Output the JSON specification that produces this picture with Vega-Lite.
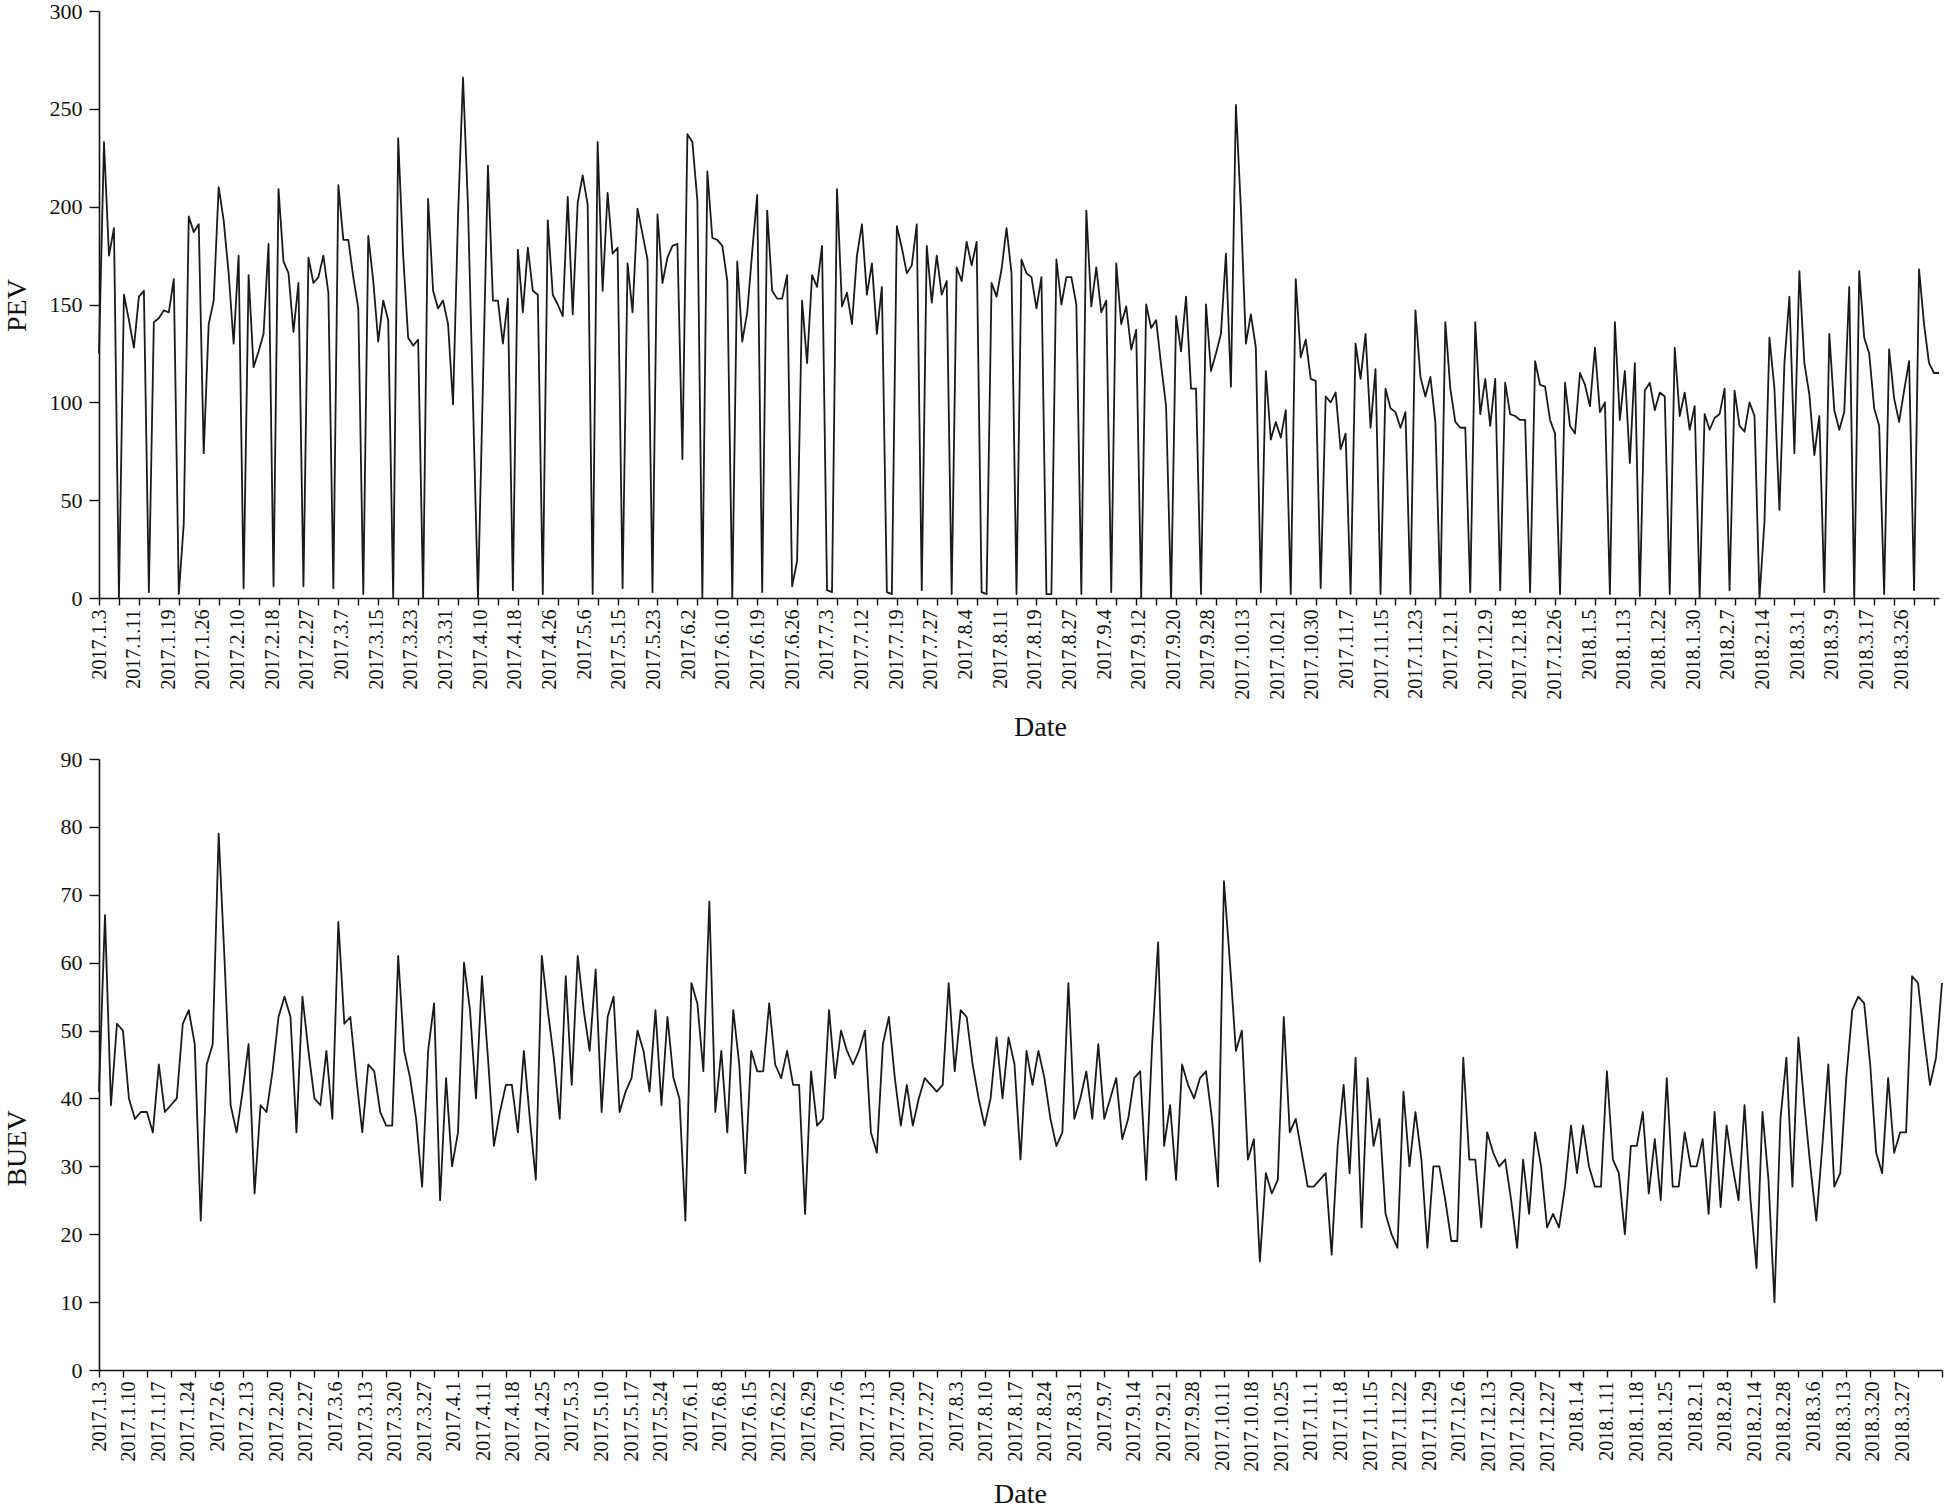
{
  "$schema": "https://vega.github.io/schema/vega-lite/v6.json",
  "autosize": {"type": "pad"},
  "padding": {"left": 3, "top": 0, "right": 0, "bottom": 0},
  "background": "white",
  "spacing": 7,
  "config": {
    "view": {"stroke": null},
    "axis": {
      "grid": false,
      "domainColor": "#111111",
      "domainWidth": 1.6,
      "tickColor": "#111111",
      "tickWidth": 1.4,
      "labelColor": "#111111",
      "titleColor": "#111111",
      "titleFont": "Liberation Serif",
      "titleFontWeight": "normal",
      "titleFontSize": 28
    }
  },
  "datasets": {
    "pev": [
      {"i":0,"v":125},{"i":1,"v":233},{"i":2,"v":175},{"i":3,"v":189},{"i":4,"v":0},{"i":5,"v":155},{"i":6,"v":142},{"i":7,"v":128},{"i":8,"v":154},{"i":9,"v":157},
      {"i":10,"v":3},{"i":11,"v":141},{"i":12,"v":143},{"i":13,"v":147},{"i":14,"v":146},{"i":15,"v":163},{"i":16,"v":2},{"i":17,"v":38},{"i":18,"v":195},{"i":19,"v":187},
      {"i":20,"v":191},{"i":21,"v":74},{"i":22,"v":140},{"i":23,"v":152},{"i":24,"v":210},{"i":25,"v":193},{"i":26,"v":166},{"i":27,"v":130},{"i":28,"v":175},{"i":29,"v":5},
      {"i":30,"v":165},{"i":31,"v":118},{"i":32,"v":126},{"i":33,"v":135},{"i":34,"v":181},{"i":35,"v":6},{"i":36,"v":209},{"i":37,"v":172},{"i":38,"v":166},{"i":39,"v":136},
      {"i":40,"v":161},{"i":41,"v":6},{"i":42,"v":174},{"i":43,"v":161},{"i":44,"v":164},{"i":45,"v":175},{"i":46,"v":156},{"i":47,"v":5},{"i":48,"v":211},{"i":49,"v":183},
      {"i":50,"v":183},{"i":51,"v":164},{"i":52,"v":148},{"i":53,"v":2},{"i":54,"v":185},{"i":55,"v":162},{"i":56,"v":131},{"i":57,"v":152},{"i":58,"v":142},{"i":59,"v":0},
      {"i":60,"v":235},{"i":61,"v":175},{"i":62,"v":133},{"i":63,"v":129},{"i":64,"v":132},{"i":65,"v":0},{"i":66,"v":204},{"i":67,"v":157},{"i":68,"v":148},{"i":69,"v":152},
      {"i":70,"v":140},{"i":71,"v":99},{"i":72,"v":195},{"i":73,"v":266},{"i":74,"v":200},{"i":75,"v":100},{"i":76,"v":0},{"i":77,"v":110},{"i":78,"v":221},{"i":79,"v":152},
      {"i":80,"v":152},{"i":81,"v":130},{"i":82,"v":153},{"i":83,"v":4},{"i":84,"v":178},{"i":85,"v":146},{"i":86,"v":179},{"i":87,"v":157},{"i":88,"v":155},{"i":89,"v":2},
      {"i":90,"v":193},{"i":91,"v":155},{"i":92,"v":150},{"i":93,"v":144},{"i":94,"v":205},{"i":95,"v":145},{"i":96,"v":202},{"i":97,"v":216},{"i":98,"v":201},{"i":99,"v":2},
      {"i":100,"v":233},{"i":101,"v":157},{"i":102,"v":207},{"i":103,"v":176},{"i":104,"v":179},{"i":105,"v":5},{"i":106,"v":171},{"i":107,"v":146},{"i":108,"v":199},{"i":109,"v":186},
      {"i":110,"v":173},{"i":111,"v":3},{"i":112,"v":196},{"i":113,"v":161},{"i":114,"v":174},{"i":115,"v":180},{"i":116,"v":181},{"i":117,"v":71},{"i":118,"v":237},{"i":119,"v":233},
      {"i":120,"v":203},{"i":121,"v":0},{"i":122,"v":218},{"i":123,"v":184},{"i":124,"v":183},{"i":125,"v":180},{"i":126,"v":162},{"i":127,"v":0},{"i":128,"v":172},{"i":129,"v":131},
      {"i":130,"v":146},{"i":131,"v":177},{"i":132,"v":206},{"i":133,"v":3},{"i":134,"v":198},{"i":135,"v":157},{"i":136,"v":153},{"i":137,"v":153},{"i":138,"v":165},{"i":139,"v":6},
      {"i":140,"v":19},{"i":141,"v":152},{"i":142,"v":120},{"i":143,"v":165},{"i":144,"v":159},{"i":145,"v":180},{"i":146,"v":4},{"i":147,"v":3},{"i":148,"v":209},{"i":149,"v":149},
      {"i":150,"v":156},{"i":151,"v":140},{"i":152,"v":175},{"i":153,"v":191},{"i":154,"v":155},{"i":155,"v":171},{"i":156,"v":135},{"i":157,"v":159},{"i":158,"v":3},{"i":159,"v":2},
      {"i":160,"v":190},{"i":161,"v":179},{"i":162,"v":166},{"i":163,"v":170},{"i":164,"v":191},{"i":165,"v":4},{"i":166,"v":180},{"i":167,"v":151},{"i":168,"v":175},{"i":169,"v":155},
      {"i":170,"v":162},{"i":171,"v":2},{"i":172,"v":169},{"i":173,"v":162},{"i":174,"v":182},{"i":175,"v":170},{"i":176,"v":182},{"i":177,"v":3},{"i":178,"v":2},{"i":179,"v":161},
      {"i":180,"v":154},{"i":181,"v":168},{"i":182,"v":189},{"i":183,"v":166},{"i":184,"v":2},{"i":185,"v":173},{"i":186,"v":166},{"i":187,"v":164},{"i":188,"v":148},{"i":189,"v":164},
      {"i":190,"v":2},{"i":191,"v":2},{"i":192,"v":173},{"i":193,"v":150},{"i":194,"v":164},{"i":195,"v":164},{"i":196,"v":150},{"i":197,"v":2},{"i":198,"v":198},{"i":199,"v":149},
      {"i":200,"v":169},{"i":201,"v":146},{"i":202,"v":152},{"i":203,"v":3},{"i":204,"v":171},{"i":205,"v":140},{"i":206,"v":149},{"i":207,"v":127},{"i":208,"v":137},{"i":209,"v":0},
      {"i":210,"v":150},{"i":211,"v":138},{"i":212,"v":142},{"i":213,"v":119},{"i":214,"v":98},{"i":215,"v":0},{"i":216,"v":144},{"i":217,"v":126},{"i":218,"v":154},{"i":219,"v":107},
      {"i":220,"v":107},{"i":221,"v":2},{"i":222,"v":150},{"i":223,"v":116},{"i":224,"v":125},{"i":225,"v":135},{"i":226,"v":176},{"i":227,"v":108},{"i":228,"v":252},{"i":229,"v":199},
      {"i":230,"v":130},{"i":231,"v":145},{"i":232,"v":128},{"i":233,"v":3},{"i":234,"v":116},{"i":235,"v":81},{"i":236,"v":90},{"i":237,"v":82},{"i":238,"v":96},{"i":239,"v":2},
      {"i":240,"v":163},{"i":241,"v":123},{"i":242,"v":132},{"i":243,"v":112},{"i":244,"v":111},{"i":245,"v":5},{"i":246,"v":103},{"i":247,"v":100},{"i":248,"v":105},{"i":249,"v":76},
      {"i":250,"v":84},{"i":251,"v":2},{"i":252,"v":130},{"i":253,"v":112},{"i":254,"v":135},{"i":255,"v":87},{"i":256,"v":117},{"i":257,"v":2},{"i":258,"v":107},{"i":259,"v":97},
      {"i":260,"v":95},{"i":261,"v":87},{"i":262,"v":95},{"i":263,"v":2},{"i":264,"v":147},{"i":265,"v":113},{"i":266,"v":103},{"i":267,"v":113},{"i":268,"v":90},{"i":269,"v":0},
      {"i":270,"v":141},{"i":271,"v":107},{"i":272,"v":90},{"i":273,"v":87},{"i":274,"v":87},{"i":275,"v":3},{"i":276,"v":141},{"i":277,"v":94},{"i":278,"v":112},{"i":279,"v":88},
      {"i":280,"v":112},{"i":281,"v":4},{"i":282,"v":110},{"i":283,"v":94},{"i":284,"v":93},{"i":285,"v":91},{"i":286,"v":91},{"i":287,"v":3},{"i":288,"v":121},{"i":289,"v":109},
      {"i":290,"v":108},{"i":291,"v":91},{"i":292,"v":84},{"i":293,"v":2},{"i":294,"v":110},{"i":295,"v":88},{"i":296,"v":84},{"i":297,"v":115},{"i":298,"v":109},{"i":299,"v":98},
      {"i":300,"v":128},{"i":301,"v":95},{"i":302,"v":100},{"i":303,"v":2},{"i":304,"v":141},{"i":305,"v":91},{"i":306,"v":116},{"i":307,"v":69},{"i":308,"v":120},{"i":309,"v":1},
      {"i":310,"v":106},{"i":311,"v":110},{"i":312,"v":96},{"i":313,"v":105},{"i":314,"v":103},{"i":315,"v":2},{"i":316,"v":128},{"i":317,"v":93},{"i":318,"v":105},{"i":319,"v":86},
      {"i":320,"v":98},{"i":321,"v":0},{"i":322,"v":94},{"i":323,"v":86},{"i":324,"v":92},{"i":325,"v":94},{"i":326,"v":107},{"i":327,"v":4},{"i":328,"v":106},{"i":329,"v":88},
      {"i":330,"v":85},{"i":331,"v":100},{"i":332,"v":93},{"i":333,"v":0},{"i":334,"v":39},{"i":335,"v":133},{"i":336,"v":107},{"i":337,"v":45},{"i":338,"v":120},{"i":339,"v":154},
      {"i":340,"v":74},{"i":341,"v":167},{"i":342,"v":120},{"i":343,"v":104},{"i":344,"v":73},{"i":345,"v":93},{"i":346,"v":3},{"i":347,"v":135},{"i":348,"v":96},{"i":349,"v":86},
      {"i":350,"v":95},{"i":351,"v":159},{"i":352,"v":0},{"i":353,"v":167},{"i":354,"v":133},{"i":355,"v":125},{"i":356,"v":97},{"i":357,"v":88},{"i":358,"v":2},{"i":359,"v":127},
      {"i":360,"v":102},{"i":361,"v":90},{"i":362,"v":106},{"i":363,"v":121},{"i":364,"v":4},{"i":365,"v":168},{"i":366,"v":140},{"i":367,"v":120},{"i":368,"v":115},{"i":369,"v":115}
    ],
    "buev": [
      {"i":0,"v":41},{"i":1,"v":67},{"i":2,"v":39},{"i":3,"v":51},{"i":4,"v":50},{"i":5,"v":40},{"i":6,"v":37},{"i":7,"v":38},{"i":8,"v":38},{"i":9,"v":35},
      {"i":10,"v":45},{"i":11,"v":38},{"i":12,"v":39},{"i":13,"v":40},{"i":14,"v":51},{"i":15,"v":53},{"i":16,"v":48},{"i":17,"v":22},{"i":18,"v":45},{"i":19,"v":48},
      {"i":20,"v":79},{"i":21,"v":60},{"i":22,"v":39},{"i":23,"v":35},{"i":24,"v":41},{"i":25,"v":48},{"i":26,"v":26},{"i":27,"v":39},{"i":28,"v":38},{"i":29,"v":44},
      {"i":30,"v":52},{"i":31,"v":55},{"i":32,"v":52},{"i":33,"v":35},{"i":34,"v":55},{"i":35,"v":47},{"i":36,"v":40},{"i":37,"v":39},{"i":38,"v":47},{"i":39,"v":37},
      {"i":40,"v":66},{"i":41,"v":51},{"i":42,"v":52},{"i":43,"v":43},{"i":44,"v":35},{"i":45,"v":45},{"i":46,"v":44},{"i":47,"v":38},{"i":48,"v":36},{"i":49,"v":36},
      {"i":50,"v":61},{"i":51,"v":47},{"i":52,"v":43},{"i":53,"v":37},{"i":54,"v":27},{"i":55,"v":47},{"i":56,"v":54},{"i":57,"v":25},{"i":58,"v":43},{"i":59,"v":30},
      {"i":60,"v":35},{"i":61,"v":60},{"i":62,"v":53},{"i":63,"v":40},{"i":64,"v":58},{"i":65,"v":46},{"i":66,"v":33},{"i":67,"v":38},{"i":68,"v":42},{"i":69,"v":42},
      {"i":70,"v":35},{"i":71,"v":47},{"i":72,"v":37},{"i":73,"v":28},{"i":74,"v":61},{"i":75,"v":53},{"i":76,"v":46},{"i":77,"v":37},{"i":78,"v":58},{"i":79,"v":42},
      {"i":80,"v":61},{"i":81,"v":53},{"i":82,"v":47},{"i":83,"v":59},{"i":84,"v":38},{"i":85,"v":52},{"i":86,"v":55},{"i":87,"v":38},{"i":88,"v":41},{"i":89,"v":43},
      {"i":90,"v":50},{"i":91,"v":47},{"i":92,"v":41},{"i":93,"v":53},{"i":94,"v":39},{"i":95,"v":52},{"i":96,"v":43},{"i":97,"v":40},{"i":98,"v":22},{"i":99,"v":57},
      {"i":100,"v":54},{"i":101,"v":44},{"i":102,"v":69},{"i":103,"v":38},{"i":104,"v":47},{"i":105,"v":35},{"i":106,"v":53},{"i":107,"v":45},{"i":108,"v":29},{"i":109,"v":47},
      {"i":110,"v":44},{"i":111,"v":44},{"i":112,"v":54},{"i":113,"v":45},{"i":114,"v":43},{"i":115,"v":47},{"i":116,"v":42},{"i":117,"v":42},{"i":118,"v":23},{"i":119,"v":44},
      {"i":120,"v":36},{"i":121,"v":37},{"i":122,"v":53},{"i":123,"v":43},{"i":124,"v":50},{"i":125,"v":47},{"i":126,"v":45},{"i":127,"v":47},{"i":128,"v":50},{"i":129,"v":35},
      {"i":130,"v":32},{"i":131,"v":48},{"i":132,"v":52},{"i":133,"v":43},{"i":134,"v":36},{"i":135,"v":42},{"i":136,"v":36},{"i":137,"v":40},{"i":138,"v":43},{"i":139,"v":42},
      {"i":140,"v":41},{"i":141,"v":42},{"i":142,"v":57},{"i":143,"v":44},{"i":144,"v":53},{"i":145,"v":52},{"i":146,"v":45},{"i":147,"v":40},{"i":148,"v":36},{"i":149,"v":40},
      {"i":150,"v":49},{"i":151,"v":40},{"i":152,"v":49},{"i":153,"v":45},{"i":154,"v":31},{"i":155,"v":47},{"i":156,"v":42},{"i":157,"v":47},{"i":158,"v":43},{"i":159,"v":37},
      {"i":160,"v":33},{"i":161,"v":35},{"i":162,"v":57},{"i":163,"v":37},{"i":164,"v":40},{"i":165,"v":44},{"i":166,"v":37},{"i":167,"v":48},{"i":168,"v":37},{"i":169,"v":40},
      {"i":170,"v":43},{"i":171,"v":34},{"i":172,"v":37},{"i":173,"v":43},{"i":174,"v":44},{"i":175,"v":28},{"i":176,"v":48},{"i":177,"v":63},{"i":178,"v":33},{"i":179,"v":39},
      {"i":180,"v":28},{"i":181,"v":45},{"i":182,"v":42},{"i":183,"v":40},{"i":184,"v":43},{"i":185,"v":44},{"i":186,"v":37},{"i":187,"v":27},{"i":188,"v":72},{"i":189,"v":60},
      {"i":190,"v":47},{"i":191,"v":50},{"i":192,"v":31},{"i":193,"v":34},{"i":194,"v":16},{"i":195,"v":29},{"i":196,"v":26},{"i":197,"v":28},{"i":198,"v":52},{"i":199,"v":35},
      {"i":200,"v":37},{"i":201,"v":32},{"i":202,"v":27},{"i":203,"v":27},{"i":204,"v":28},{"i":205,"v":29},{"i":206,"v":17},{"i":207,"v":33},{"i":208,"v":42},{"i":209,"v":29},
      {"i":210,"v":46},{"i":211,"v":21},{"i":212,"v":43},{"i":213,"v":33},{"i":214,"v":37},{"i":215,"v":23},{"i":216,"v":20},{"i":217,"v":18},{"i":218,"v":41},{"i":219,"v":30},
      {"i":220,"v":38},{"i":221,"v":31},{"i":222,"v":18},{"i":223,"v":30},{"i":224,"v":30},{"i":225,"v":25},{"i":226,"v":19},{"i":227,"v":19},{"i":228,"v":46},{"i":229,"v":31},
      {"i":230,"v":31},{"i":231,"v":21},{"i":232,"v":35},{"i":233,"v":32},{"i":234,"v":30},{"i":235,"v":31},{"i":236,"v":25},{"i":237,"v":18},{"i":238,"v":31},{"i":239,"v":23},
      {"i":240,"v":35},{"i":241,"v":30},{"i":242,"v":21},{"i":243,"v":23},{"i":244,"v":21},{"i":245,"v":27},{"i":246,"v":36},{"i":247,"v":29},{"i":248,"v":36},{"i":249,"v":30},
      {"i":250,"v":27},{"i":251,"v":27},{"i":252,"v":44},{"i":253,"v":31},{"i":254,"v":29},{"i":255,"v":20},{"i":256,"v":33},{"i":257,"v":33},{"i":258,"v":38},{"i":259,"v":26},
      {"i":260,"v":34},{"i":261,"v":25},{"i":262,"v":43},{"i":263,"v":27},{"i":264,"v":27},{"i":265,"v":35},{"i":266,"v":30},{"i":267,"v":30},{"i":268,"v":34},{"i":269,"v":23},
      {"i":270,"v":38},{"i":271,"v":24},{"i":272,"v":36},{"i":273,"v":30},{"i":274,"v":25},{"i":275,"v":39},{"i":276,"v":25},{"i":277,"v":15},{"i":278,"v":38},{"i":279,"v":28},
      {"i":280,"v":10},{"i":281,"v":37},{"i":282,"v":46},{"i":283,"v":27},{"i":284,"v":49},{"i":285,"v":39},{"i":286,"v":30},{"i":287,"v":22},{"i":288,"v":33},{"i":289,"v":45},
      {"i":290,"v":27},{"i":291,"v":29},{"i":292,"v":43},{"i":293,"v":53},{"i":294,"v":55},{"i":295,"v":54},{"i":296,"v":45},{"i":297,"v":32},{"i":298,"v":29},{"i":299,"v":43},
      {"i":300,"v":32},{"i":301,"v":35},{"i":302,"v":35},{"i":303,"v":58},{"i":304,"v":57},{"i":305,"v":49},{"i":306,"v":42},{"i":307,"v":46},{"i":308,"v":57}
    ]
  },
  "vconcat": [
    {
      "width": 1840,
      "height": 587,
      "data": {"name": "pev"},
      "mark": {"type": "line", "color": "#1a1a1a", "strokeWidth": 1.8, "strokeJoin": "round"},
      "encoding": {
        "x": {
          "field": "i",
          "type": "quantitative",
          "scale": {"domain": [0, 369], "nice": false, "zero": false},
          "axis": {
            "values": [0,6.95,13.9,20.85,27.8,34.75,41.7,48.65,55.6,62.55,69.5,76.45,83.4,90.35,97.3,104.25,111.2,118.15,125.1,132.05,139,145.95,152.9,159.85,166.8,173.75,180.7,187.65,194.6,201.55,208.5,215.45,222.4,229.35,236.3,243.25,250.2,257.15,264.1,271.05,278,284.95,291.9,298.85,305.8,312.75,319.7,326.65,333.6,340.55,347.5,354.45,361.4,
              4,8,12,16,20,24,28,32,36,40,44,48,52,56,60,64,68,72,76,80,84,88,92,96,100,104,108,112,116,120,124,128,132,136,140,144,148,152,156,160,164,168,172,176,180,184,188,192,196,200,204,208,212,216,220,224,228,232,236,240,244,248,252,256,260,264,268,272,276,280,284,288,292,296,300,304,308,312,316,320,324,328,332,336,340,344,348,352,356,360,364,368],
            "labelExpr": "abs(datum.value/6.95-round(datum.value/6.95))<0.001 ? ['2017.1.3','2017.1.11','2017.1.19','2017.1.26','2017.2.10','2017.2.18','2017.2.27','2017.3.7','2017.3.15','2017.3.23','2017.3.31','2017.4.10','2017.4.18','2017.4.26','2017.5.6','2017.5.15','2017.5.23','2017.6.2','2017.6.10','2017.6.19','2017.6.26','2017.7.3','2017.7.12','2017.7.19','2017.7.27','2017.8.4','2017.8.11','2017.8.19','2017.8.27','2017.9.4','2017.9.12','2017.9.20','2017.9.28','2017.10.13','2017.10.21','2017.10.30','2017.11.7','2017.11.15','2017.11.23','2017.12.1','2017.12.9','2017.12.18','2017.12.26','2018.1.5','2018.1.13','2018.1.22','2018.1.30','2018.2.7','2018.2.14','2018.3.1','2018.3.9','2018.3.17','2018.3.26'][round(datum.value/6.95)] : ''",
            "tickOpacity": {"condition": {"test": "datum.value % 4 === 0", "value": 1}, "value": 0},
            "tickSize": 7,
            "labelAngle": -90,
            "labelPadding": 4,
            "labelFont": "Liberation Serif",
            "labelFontSize": 20,
            "labelOverlap": false,
            "labelBound": false,
            "labelFlush": false,
            "title": "Date",
            "titleX": 941,
            "titleY": 129,
            "titleAlign": "center",
            "titleBaseline": "middle"
          }
        },
        "y": {
          "field": "v",
          "type": "quantitative",
          "scale": {"domain": [0, 300], "nice": false},
          "axis": {
            "values": [0, 50, 100, 150, 200, 250, 300],
            "tickSize": 10,
            "labelPadding": 7,
            "labelFont": "Liberation Serif",
            "labelFontSize": 22,
            "title": "PEV",
            "titleX": -82,
            "titleY": 294,
            "titleAngle": -90,
            "titleAlign": "center",
            "titleBaseline": "middle"
          }
        }
      }
    },
    {
      "width": 1843,
      "height": 611,
      "data": {"name": "buev"},
      "mark": {"type": "line", "color": "#1a1a1a", "strokeWidth": 1.8, "strokeJoin": "round"},
      "encoding": {
        "x": {
          "field": "i",
          "type": "quantitative",
          "scale": {"domain": [0, 308], "nice": false, "zero": false},
          "axis": {
            "values": [0,4.94,9.88,14.82,19.76,24.7,29.64,34.58,39.52,44.46,49.4,54.34,59.28,64.22,69.16,74.1,79.04,83.98,88.92,93.86,98.8,103.74,108.68,113.62,118.56,123.5,128.44,133.38,138.32,143.26,148.2,153.14,158.08,163.02,167.96,172.9,177.84,182.78,187.72,192.66,197.6,202.54,207.48,212.42,217.36,222.3,227.24,232.18,237.12,242.06,247,251.94,256.88,261.82,266.76,271.7,276.64,281.58,286.52,291.46,296.4,301.34,
              4,8,12,16,20,24,28,32,36,40,44,48,52,56,60,64,68,72,76,80,84,88,92,96,100,104,108,112,116,120,124,128,132,136,140,144,148,152,156,160,164,168,172,176,180,184,188,192,196,200,204,208,212,216,220,224,228,232,236,240,244,248,252,256,260,264,268,272,276,280,284,288,292,296,300,304,308],
            "labelExpr": "abs(datum.value/4.94-round(datum.value/4.94))<0.001 ? ['2017.1.3','2017.1.10','2017.1.17','2017.1.24','2017.2.6','2017.2.13','2017.2.20','2017.2.27','2017.3.6','2017.3.13','2017.3.20','2017.3.27','2017.4.1','2017.4.11','2017.4.18','2017.4.25','2017.5.3','2017.5.10','2017.5.17','2017.5.24','2017.6.1','2017.6.8','2017.6.15','2017.6.22','2017.6.29','2017.7.6','2017.7.13','2017.7.20','2017.7.27','2017.8.3','2017.8.10','2017.8.17','2017.8.24','2017.8.31','2017.9.7','2017.9.14','2017.9.21','2017.9.28','2017.10.11','2017.10.18','2017.10.25','2017.11.1','2017.11.8','2017.11.15','2017.11.22','2017.11.29','2017.12.6','2017.12.13','2017.12.20','2017.12.27','2018.1.4','2018.1.11','2018.1.18','2018.1.25','2018.2.1','2018.2.8','2018.2.14','2018.2.28','2018.3.6','2018.3.13','2018.3.20','2018.3.27'][round(datum.value/4.94)] : ''",
            "tickOpacity": {"condition": {"test": "datum.value % 4 === 0", "value": 1}, "value": 0},
            "tickSize": 7,
            "labelAngle": -90,
            "labelPadding": 4,
            "labelFont": "Liberation Serif",
            "labelFontSize": 20,
            "labelOverlap": false,
            "labelBound": false,
            "labelFlush": false,
            "title": "Date",
            "titleX": 921,
            "titleY": 124,
            "titleAlign": "center",
            "titleBaseline": "middle"
          }
        },
        "y": {
          "field": "v",
          "type": "quantitative",
          "scale": {"domain": [0, 90], "nice": false},
          "axis": {
            "values": [0, 10, 20, 30, 40, 50, 60, 70, 80, 90],
            "tickSize": 10,
            "labelPadding": 7,
            "labelFont": "Liberation Serif",
            "labelFontSize": 22,
            "title": "BUEV",
            "titleX": -82,
            "titleY": 389,
            "titleAngle": -90,
            "titleAlign": "center",
            "titleBaseline": "middle"
          }
        }
      }
    }
  ]
}
